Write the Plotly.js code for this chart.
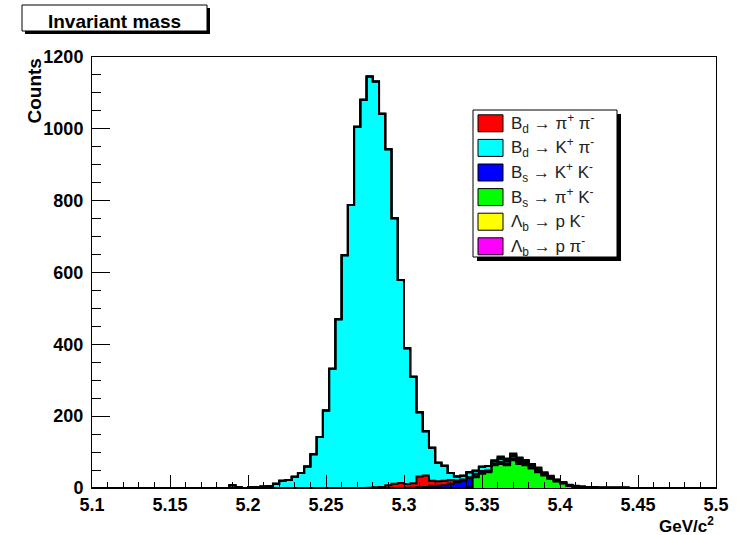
<!DOCTYPE html>
<html>
<head>
<meta charset="utf-8">
<script src="https://cdn.plot.ly/plotly-3.0.1.min.js"></script>
<style>
html, body { margin: 0; padding: 0; background: #ffffff; }
#chart { width: 740px; height: 535px; }
</style>
</head>
<body>
<div id="chart"></div>
<script>
// ---- histogram binning (GeV/c^2) ----
const massMin = 5.1;
const massMax = 5.5;
const binWidth = 0.004;

// ---- series (counts per bin, 100 bins from 5.1 to 5.5) ----
const bdPiPi = [ // Bd -> pi+ pi-
  0,0,0,0,0,0,0,0,0,0,
  0,0,0,0,0,0,0,0,0,0,
  0,0,0,0,0,0,0,0,0,0,
  0,0,0,0,0,0,0,0,0,0,
  0,0,0,0,1,2,3,8,12,14,
  10,12,30,32,14,13,12,10,5,4,
  2,2,2,2,2,3,3,3,3,2,
  2,2,1,0,0,0,0,0,0,0,
  0,0,0,0,0,0,0,0,0,0,
  0,0,0,0,0,0,0,0,0,0];
const bdKPi = [ // Bd -> K+ pi-
  0,0,0,0,0,0,0,0,0,0,
  0,0,0,0,0,0,0,0,0,0,
  0,0,8,2,0,3,2,4,5,12,
  20,22,31,42,60,94,142,216,332,470,
  648,788,1006,1081,1145,1130,1039,935,739,565,
  378,297,179,123,92,51,42,20,11,10,
  14,8,12,12,6,8,6,6,5,5,
  4,4,3,3,2,2,1,0,0,0,
  0,0,0,0,0,0,0,0,0,0,
  0,0,0,0,0,0,0,0,0,0];
const bsKK = [ // Bs -> K+ K-
  0,0,0,0,0,0,0,0,0,0,
  0,0,0,0,0,0,0,0,0,0,
  0,0,0,0,0,0,0,0,0,0,
  0,0,0,0,0,0,0,0,0,0,
  0,0,0,0,0,0,0,0,0,0,
  1,1,2,3,6,6,8,12,16,20,
  26,8,5,3,3,3,3,3,3,2,
  2,2,1,1,0,0,0,0,0,0,
  0,0,0,0,0,0,0,0,0,0,
  0,0,0,0,0,0,0,0,0,0];
const bsPiK = [ // Bs -> pi+ K-
  0,0,0,0,0,0,0,0,0,0,
  0,0,0,0,0,0,0,0,0,0,
  0,0,0,0,0,0,0,0,0,0,
  0,0,0,0,0,0,0,0,0,0,
  0,0,0,0,0,0,0,0,0,0,
  0,0,0,0,0,0,0,0,0,0,
  2,30,40,44,63,67,63,77,67,63,
  54,44,35,26,19,13,6,4,3,2,
  2,1,1,1,1,1,0,0,0,0,
  0,0,0,0,0,0,0,0,0,0];
const lbPK = [ // Lambda_b -> p K-
  0,0,0,0,0,0,0,0,0,0,
  0,0,0,0,0,0,0,0,0,0,
  0,0,0,0,0,0,0,0,0,0,
  0,0,0,0,0,0,0,0,0,0,
  0,0,0,0,0,0,0,0,0,0,
  0,0,0,0,0,0,0,0,0,0,
  0,0,0,0,2,4,4,4,4,3,
  3,3,2,2,2,1,1,1,1,1,
  1,0,0,0,0,0,0,0,0,0,
  0,0,0,0,0,0,0,0,0,0];
const lbPPi = [ // Lambda_b -> p pi-
  0,0,0,0,0,0,0,0,0,0,
  0,0,0,0,0,0,0,0,0,0,
  0,0,0,0,0,0,0,0,0,0,
  0,0,0,0,0,0,0,0,0,0,
  0,0,0,0,0,0,0,0,0,0,
  0,0,0,0,0,0,0,0,0,0,
  0,0,0,0,1,3,3,3,3,3,
  2,2,2,2,1,1,1,1,0,0,
  0,0,0,0,0,0,0,0,0,0,
  0,0,0,0,0,0,0,0,0,0];

// legend labels (legend order)
const legendLabels = [
  'B<sub>d</sub> \u2192 \u03c0<sup>+</sup> \u03c0<sup>-</sup>',
  'B<sub>d</sub> \u2192 K<sup>+</sup> \u03c0<sup>-</sup>',
  'B<sub>s</sub> \u2192 K<sup>+</sup> K<sup>-</sup>',
  'B<sub>s</sub> \u2192 \u03c0<sup>+</sup> K<sup>-</sup>',
  '\u039b<sub>b</sub> \u2192 p K<sup>-</sup>',
  '\u039b<sub>b</sub> \u2192 p \u03c0<sup>-</sup>'
];
const legendColors = ['#ff0000', '#00ffff', '#0000ff', '#00ff00', '#ffff00', '#ff00ff'];
const legendSeries = [bdPiPi, bdKPi, bsKK, bsPiK, lbPK, lbPPi];
// stacking order, bottom to top (indices into legend arrays)
const stackOrder = [3, 2, 0, 1, 4, 5];

function stepTrace(label, counts, color) {
  const x = [], y = [];
  for (let i = 0; i < counts.length; i++) {
    x.push(+(massMin + i * binWidth).toFixed(4));
    y.push(counts[i]);
  }
  x.push(massMax);
  y.push(counts[counts.length - 1]);
  return {
    type: 'scatter', mode: 'lines', name: label, x: x, y: y,
    stackgroup: 'stack',
    line: { shape: 'hv', color: '#000000', width: 2 },
    fillcolor: color,
    showlegend: false,
    hoverinfo: 'x+y+name'
  };
}

const traces = stackOrder.map(k => stepTrace(legendLabels[k], legendSeries[k], legendColors[k]));

// ---- frame geometry (pixels) ----
const L = 92, R = 716, T = 57, B = 488;
const W = R - L, H = B - T;
const px = v => (v - L) / W;
const py = v => (B - v) / H;
const FONT = 'Liberation Sans, Arial, Helvetica, sans-serif';

const shapes = [];
const annotations = [];

// title box with drop shadow
shapes.push({ type: 'rect', xref: 'paper', yref: 'paper', x0: px(25), x1: px(210), y0: py(8), y1: py(34),
  fillcolor: '#000000', line: { width: 0 } });
shapes.push({ type: 'rect', xref: 'paper', yref: 'paper', x0: px(22), x1: px(207), y0: py(5), y1: py(31),
  fillcolor: '#ffffff', line: { color: '#000000', width: 1 } });

// legend box with drop shadow
shapes.push({ type: 'rect', xref: 'paper', yref: 'paper', x0: px(477), x1: px(621), y0: py(114), y1: py(261),
  fillcolor: '#000000', line: { width: 0 } });
shapes.push({ type: 'rect', xref: 'paper', yref: 'paper', x0: px(473), x1: px(617), y0: py(110), y1: py(257),
  fillcolor: '#ffffff', line: { color: '#000000', width: 1 } });

legendLabels.forEach((lab, i) => {
  const yc = 123.3 + 24.6 * i;
  shapes.push({ type: 'rect', xref: 'paper', yref: 'paper', x0: px(478), x1: px(503), y0: py(yc + 8.5), y1: py(yc - 8.5),
    fillcolor: legendColors[i], line: { color: '#000000', width: 1 } });
  annotations.push({ xref: 'paper', yref: 'paper', x: px(509), y: py(yc), xanchor: 'left', yanchor: 'middle',
    text: lab, showarrow: false, font: { family: FONT, size: 17, color: '#222222' } });
});

// axis titles (ROOT style: aligned to axis ends)
annotations.push({ xref: 'paper', yref: 'paper', x: px(34), y: py(57), xanchor: 'center', yanchor: 'top',
  text: 'Counts', textangle: -90, showarrow: false, font: { family: FONT, size: 19, color: '#000000', weight: 'bold' } });
annotations.push({ xref: 'paper', yref: 'paper', x: px(716), y: py(525), xanchor: 'right', yanchor: 'middle',
  text: 'GeV/c<sup>2</sup>', showarrow: false, font: { family: FONT, size: 17, color: '#000000', weight: 'bold' } });

const layout = {
  width: 740, height: 535,
  margin: { l: L, r: 740 - R, t: T, b: 535 - B, pad: 0 },
  paper_bgcolor: '#ffffff', plot_bgcolor: '#ffffff',
  showlegend: false,
  title: { text: '<b>Invariant mass</b>', x: 114.5 / 740, y: 1 - 21 / 535, xanchor: 'center', yanchor: 'middle',
    xref: 'container', yref: 'container', font: { family: FONT, size: 19, color: '#000000' } },
  xaxis: {
    range: [massMin, massMax], tick0: 5.1, dtick: 0.05,
    ticks: 'inside', ticklen: 13, tickwidth: 1, tickcolor: '#000000',
    minor: { dtick: 0.01, ticks: 'inside', ticklen: 6.5, tickwidth: 1, tickcolor: '#000000' },
    showline: true, linecolor: '#000000', linewidth: 1, mirror: true,
    showgrid: false, zeroline: false,
    tickfont: { family: FONT, size: 18, color: '#000000', weight: 'bold' }
  },
  yaxis: {
    range: [0, 1200], tick0: 0, dtick: 200,
    ticks: 'inside', ticklen: 18, tickwidth: 1, tickcolor: '#000000',
    minor: { dtick: 50, ticks: 'inside', ticklen: 9, tickwidth: 1, tickcolor: '#000000' },
    showline: true, linecolor: '#000000', linewidth: 1, mirror: true,
    showgrid: false, zeroline: false,
    ticklabelstandoff: 4,
    tickfont: { family: FONT, size: 18, color: '#000000', weight: 'bold' }
  },
  shapes: shapes,
  annotations: annotations
};

Plotly.newPlot('chart', traces, layout, { displayModeBar: false, staticPlot: true });
</script>
</body>
</html>
